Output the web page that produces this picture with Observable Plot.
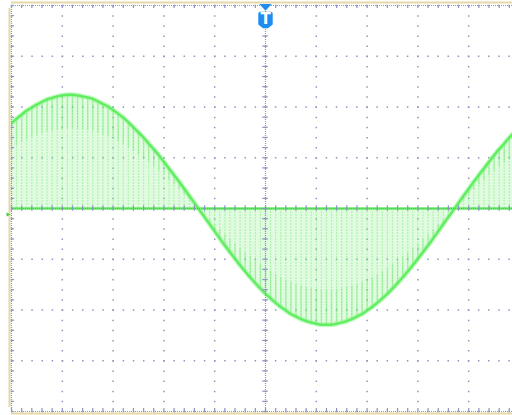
<!DOCTYPE html>
<html><head><meta charset="utf-8">
<script src="https://cdn.jsdelivr.net/npm/d3@7"></script>
<script src="https://cdn.jsdelivr.net/npm/@observablehq/plot@0.6"></script>
<style>html,body{margin:0;padding:0;background:#fff}svg{display:block}</style>
</head><body><div id="chart"></div>
<script>
// time axis in divisions (0 = trigger point), sampled every 0.1 div
const timeDiv = [-5.2,-5.1,-5.0,-4.9,-4.8,-4.7,-4.6,-4.5,-4.4,-4.3,-4.2,-4.1,-4.0,-3.9,-3.8,-3.7,-3.6,-3.5,-3.4,-3.3,-3.2,-3.1,-3.0,-2.9,-2.8,-2.7,-2.6,-2.5,-2.4,-2.3,-2.2,-2.1,-2.0,-1.9,-1.8,-1.7,-1.6,-1.5,-1.4,-1.3,-1.2,-1.1,-1.0,-0.9,-0.8,-0.7,-0.6,-0.5,-0.4,-0.3,-0.2,-0.1,0.0,0.1,0.2,0.3,0.4,0.5,0.6,0.7,0.8,0.9,1.0,1.1,1.2,1.3,1.4,1.5,1.6,1.7,1.8,1.9,2.0,2.1,2.2,2.3,2.4,2.5,2.6,2.7,2.8,2.9,3.0,3.1,3.2,3.3,3.4,3.5,3.6,3.7,3.8,3.9,4.0,4.1,4.2,4.3,4.4,4.5,4.6,4.7,4.8,4.9];
// envelope of the chopped trace, in vertical divisions
const envelope = [1.48,1.58,1.68,1.77,1.85,1.93,1.99,2.05,2.10,2.15,2.18,2.21,2.23,2.24,2.24,2.23,2.21,2.19,2.16,2.11,2.06,2.01,1.94,1.87,1.79,1.70,1.60,1.50,1.40,1.28,1.17,1.05,0.92,0.79,0.66,0.53,0.39,0.25,0.11,-0.03,-0.17,-0.31,-0.45,-0.59,-0.73,-0.86,-0.99,-1.12,-1.24,-1.36,-1.47,-1.58,-1.68,-1.77,-1.86,-1.94,-2.01,-2.08,-2.13,-2.18,-2.22,-2.25,-2.27,-2.29,-2.29,-2.29,-2.27,-2.25,-2.22,-2.18,-2.13,-2.08,-2.01,-1.94,-1.86,-1.77,-1.68,-1.58,-1.47,-1.36,-1.24,-1.12,-0.99,-0.86,-0.73,-0.59,-0.45,-0.31,-0.17,-0.03,0.11,0.25,0.39,0.53,0.66,0.79,0.92,1.05,1.17,1.28,1.40,1.50];
// graticule
const majorX = [-5,-4,-3,-2,-1,0,1,2,3,4,5];
const majorY = [-4,-3,-2,-1,0,1,2,3,4];
const minorX = d3.range(-5, 5.001, 0.2);
const minorY = d3.range(-4, 4.001, 0.2);

const samples = timeDiv.map((t, i) => ({t, v: envelope[i]}));

const W = 512, H = 415, mL = 11, pxDiv = 50.8;
const gridC = "#8f94c0";
const tan = "#e4d9a6";

const triDown = {draw(ctx, size) {const r = Math.sqrt(size / Math.PI); ctx.moveTo(-r * 1.2, -r * 0.6); ctx.lineTo(r * 1.2, -r * 0.6); ctx.lineTo(0, r * 0.7); ctx.closePath();}};
const shield = {draw(ctx, size) {const r = Math.sqrt(size / Math.PI); const w = r * 0.88, h = r; const c = 2;
  ctx.moveTo(-w + c, -h); ctx.lineTo(w - c, -h); ctx.quadraticCurveTo(w, -h, w, -h + c);
  ctx.lineTo(w, h * 0.55); ctx.lineTo(w * 0.35, h); ctx.lineTo(-w * 0.35, h); ctx.lineTo(-w, h * 0.55);
  ctx.lineTo(-w, -h + c); ctx.quadraticCurveTo(-w, -h, -w + c, -h); ctx.closePath();}};
const triRight = {draw(ctx, size) {const r = Math.sqrt(size / Math.PI); ctx.moveTo(-r, -r); ctx.lineTo(r, 0); ctx.lineTo(-r, r); ctx.closePath();}};

const chart = Plot.plot({
  width: W, height: H,
  marginLeft: mL, marginRight: 0, marginTop: 5, marginBottom: 4,
  x: {domain: [-5, (W - mL) / pxDiv - 5], axis: null},
  y: {domain: [-4, 4], axis: null},
  style: {background: "#ffffff", overflow: "visible"},
  marks: [
    // tan frame
    Plot.ruleY([4], {stroke: tan, strokeWidth: 2, dy: -3}),
    Plot.ruleY([-4], {stroke: tan, strokeWidth: 2, dy: 2}),
    Plot.ruleX([-5], {stroke: tan, strokeWidth: 2, dx: -2, y1: -4, y2: 4, insetTop: -4, insetBottom: -3}),
    // dotted major grid
    Plot.ruleX(majorX, {stroke: gridC, strokeWidth: 1.5, strokeDasharray: "1.5 8.65"}),
    Plot.ruleY(majorY, {stroke: gridC, strokeWidth: 1.5, strokeDasharray: "1.5 8.65"}),
    // trace fill: chopped samples between 0 and envelope
    Plot.areaY(samples, {x: "t", y1: 0, y2: "v", fill: "#8cf08c", fillOpacity: 0.27, curve: "catmull-rom", clip: true}),
    Plot.ruleX(samples, {x: "t", y1: 0, y2: "v", stroke: "#66e866", strokeOpacity: 0.38, strokeWidth: 1.2, strokeDasharray: "2 1", clip: true}),
    Plot.ruleX(samples, {x: "t", y1: "v", y2: d => d.v * 0.7, stroke: "#5ee65e", strokeOpacity: 0.35, strokeWidth: 1.4, clip: true}),
    // baseline of the trace
    Plot.ruleY([0], {stroke: "#57e657", strokeWidth: 2.6, strokeOpacity: 0.9}),
    // envelope
    Plot.line(samples, {x: "t", y: "v", stroke: "#8ef58e", strokeWidth: 5, strokeOpacity: 0.5, curve: "catmull-rom", clip: true}),
    Plot.line(samples, {x: "t", y: "v", stroke: "#55ec55", strokeWidth: 2.4, strokeOpacity: 0.9, curve: "catmull-rom", clip: true}),
    // center axes and borders: dense dotted lines with minor ticks
    Plot.ruleX([0, -5], {stroke: gridC, strokeWidth: 1.2, strokeDasharray: "1 1"}),
    Plot.ruleY([0, 4, -4], {stroke: gridC, strokeWidth: 1.2, strokeDasharray: "1 1"}),
    Plot.ruleX(minorX, {x: d => d, y1: -0.055, y2: 0.055, stroke: gridC, strokeWidth: 1.2}),
    Plot.ruleY(minorY, {y: d => d, x1: -0.055, x2: 0.055, stroke: gridC, strokeWidth: 1.2}),
    Plot.ruleX(minorX, {x: d => d, y1: 4, y2: 3.94, stroke: gridC, strokeWidth: 1.2}),
    Plot.ruleX(minorX, {x: d => d, y1: -4, y2: -3.94, stroke: gridC, strokeWidth: 1.2}),
    Plot.ruleY(minorY, {y: d => d, x1: -5, x2: -4.94, stroke: gridC, strokeWidth: 1.2}),
    // trigger marker
    Plot.dot([0], {x: d => d, y: 4, dy: 1.5, symbol: triDown, r: 5.2, fill: "#1f8df0", stroke: "none"}),
    Plot.dot([0], {x: d => d, y: 4, dy: 14.5, symbol: shield, r: 8.2, fill: "#1f8df0", stroke: "none"}),
    Plot.text(["T"], {x: 0, y: 4, dy: 14, text: d => d, fill: "white", fontSize: 15, fontWeight: "bold", fontFamily: "DejaVu Sans", lineAnchor: "middle"}),
    // channel ground marker
    Plot.dot([0], {x: -5, y: 0, dx: -3, dy: 6, symbol: triRight, r: 2, fill: "#3cd23c", stroke: "none"})
  ]
});
document.getElementById("chart").append(chart);
</script>
</body></html>
